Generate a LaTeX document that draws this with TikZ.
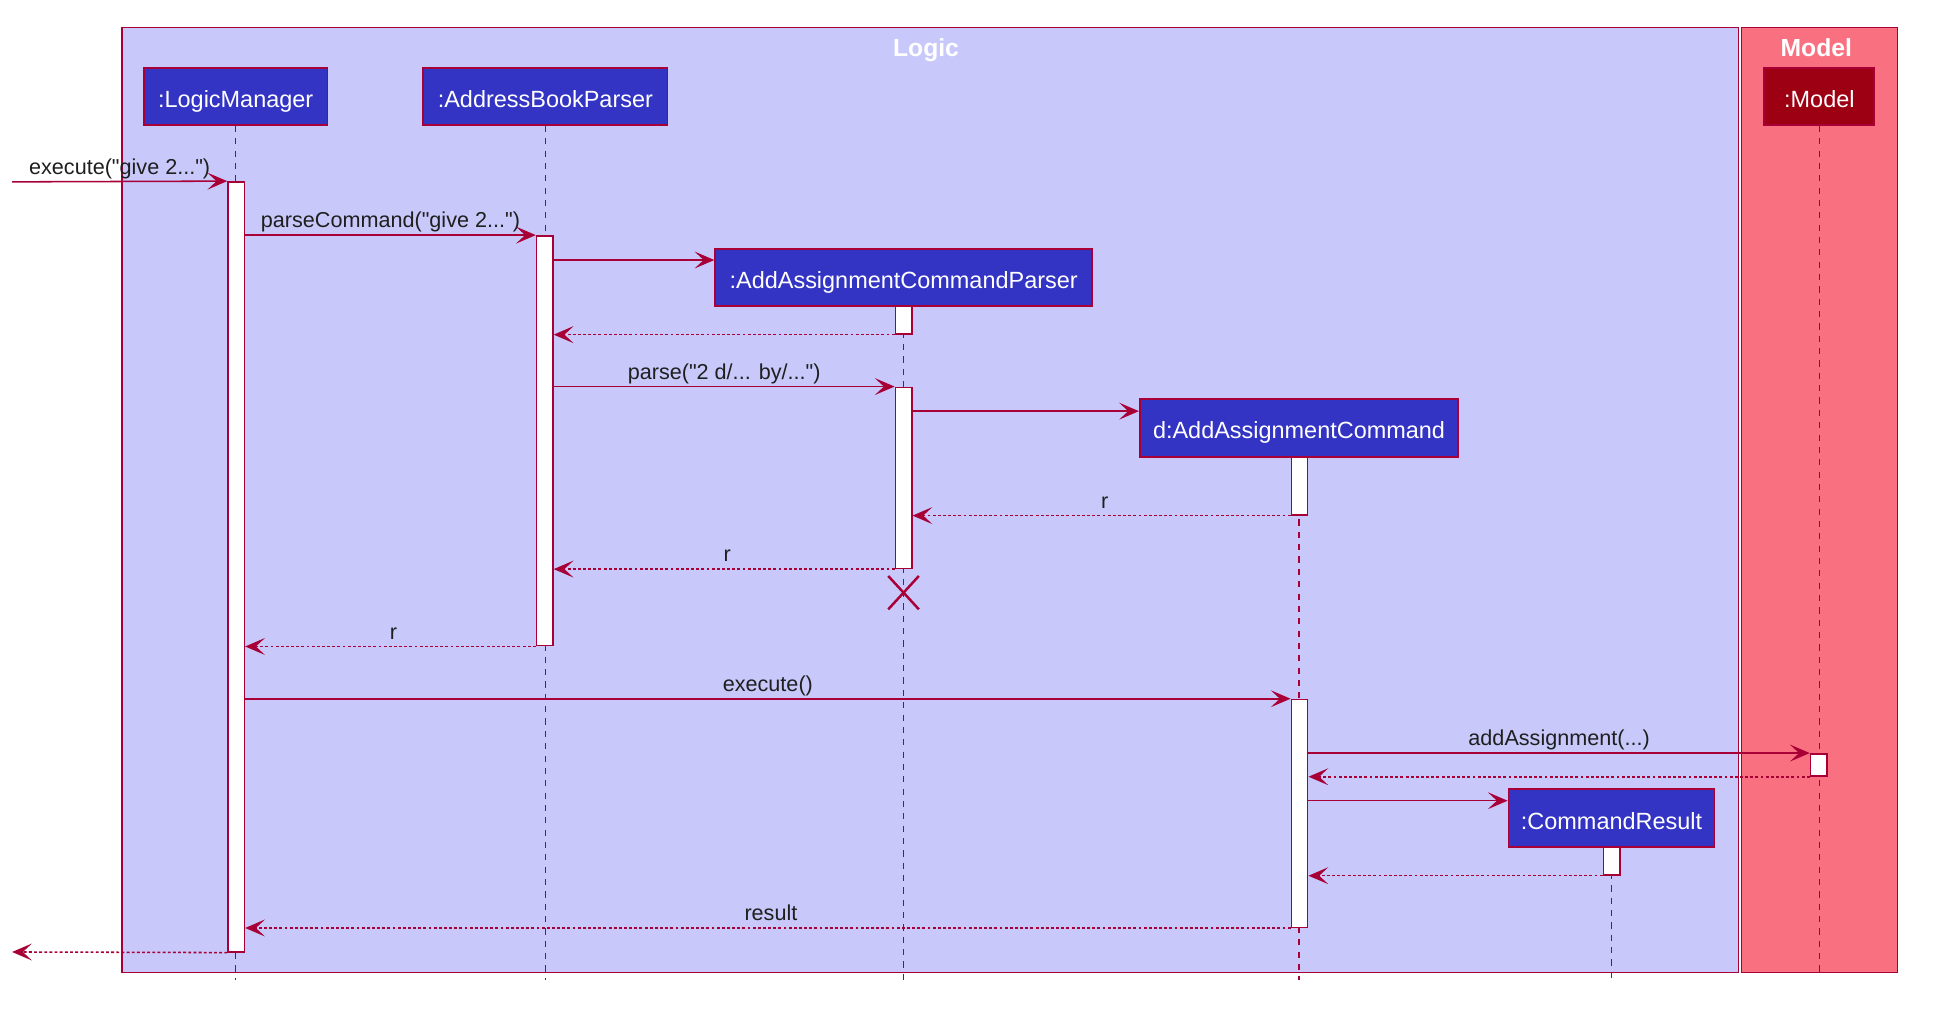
\documentclass[tikz,border=0pt]{standalone}
\usepackage{fontspec}
\setmainfont{Liberation Sans}[Ligatures=TeXOff]
\usetikzlibrary{arrows.meta}
\definecolor{arr}{HTML}{A80036}
\definecolor{logicT}{HTML}{C8C8FA}
\definecolor{modelT}{HTML}{F97181}
\definecolor{logicC}{HTML}{3333C4}
\definecolor{modelC}{HTML}{9D0012}
\tikzset{
  frame/.style={draw=arr, line width=0.7pt, inner sep=0pt, anchor=north west},
  part/.style={draw=arr, line width=0.9pt, fill=logicC, text=white, font=\fontsize{11.4}{13}\selectfont, inner sep=0pt, text height=10.5pt, text depth=0pt, minimum height=27.5pt},
  life/.style={draw=arr, line width=0.7pt, dash pattern=on 3pt off 3pt},
  act/.style={draw=arr, fill=white, line width=0.7pt, inner sep=0pt, minimum width=8pt},
  msg/.style={draw=arr, line width=0.75pt, -{Stealth[length=9.6pt,width=8.2pt,inset=4.4pt]}},
  ret/.style={msg, dash pattern=on 1.4pt off 1.1pt},
  lbl/.style={font=\fontsize{10.5}{12}\selectfont, text=black!88, anchor=base, inner sep=0pt, yshift=3.6pt},
  ttl/.style={font=\bfseries\fontsize{12}{14}\selectfont, text=white, anchor=base, inner sep=0pt},
  destroy/.style={draw=arr, line width=1.2pt}
}
\begin{document}
\begin{tikzpicture}[x=0.6pt, y=-0.6pt]
\useasboundingbox (0,0) rectangle (1568,826);
% frames
\node[frame, fill=logicT, minimum width=785.4pt, minimum height=459.2pt] (logicBox) at (98.4,21.6) {};
\node[frame, fill=modelT, minimum width=75.7pt, minimum height=459.2pt] (modelBox) at (1409.9,21.6) {};
\node[ttl] (logicTitle) at (750,45.5) {Logic};
\node[ttl] (modelTitle) at (1471,45.7) {Model};
% participants
\node[part, minimum width=89.2pt] (lm) at (190.9,78.25) {:LogicManager};
\node[part, minimum width=118.7pt] (abp) at (441.7,78.25) {:AddressBookParser};
\node[part, fill=modelC, minimum width=53.4pt] (mdl) at (1473.5,78.25) {:Model};
\node[part, minimum width=183.1pt, minimum height=27.9pt] (aacp) at (731.9,224.7) {:AddAssignmentCommandParser};
\node[part, minimum width=154.7pt, minimum height=27.9pt] (aac) at (1052.1,346.7) {d:AddAssignmentCommand};
\node[part, minimum width=100.1pt, minimum height=28.2pt] (cr) at (1305.2,662.8) {:CommandResult};
% lifelines
\coordinate (bot) at (0,794);
\coordinate (botM) at (0,790);
\draw[life] (lm.south) -- (lm.south |- bot);
\draw[life] (abp.south) -- (abp.south |- bot);
\draw[life] (aacp.south) -- (aacp.south |- bot);
\draw[life] (aac.south) -- (aac.south |- bot);
\draw[life] (cr.south) -- (cr.south |- bot);
\draw[life] (mdl.south) -- (mdl.south |- botM);
% activations
\node[act, minimum height=374.2pt] (lmA) at (191.3,459.1) {};
\node[act, minimum height=199.2pt] (abpA) at (441.2,357) {};
\node[act, minimum height=13.5pt] (aacpS) at (731.8,259.2) {};
\node[act, minimum height=88pt] (aacpA) at (731.8,387) {};
\node[act, minimum height=28.2pt] (aacS) at (1052.5,393.5) {};
\node[act, minimum height=110.7pt] (aacA) at (1052.5,658.75) {};
\node[act, minimum height=10.8pt] (modA) at (1473,619.5) {};
\node[act, minimum height=13.4pt] (crS) at (1305.2,697.5) {};
% free ends and message rows
\coordinate (inStart) at (9.8,147.3);
\coordinate (outEnd) at (9.8,771);
\coordinate (rowCreateP) at (0,210.6);
\coordinate (rowCreateC) at (0,333);
\coordinate (rowCreateR) at (0,648.5);
% messages
\draw[msg] (inStart) -- node[lbl, midway] {execute("give 2...")} (lmA.north west);
\draw[msg] (lmA.east |- abpA.north) -- node[lbl, midway] {parseCommand("give 2...")} (abpA.north west);
\draw[msg] (abpA.east |- rowCreateP) -- (aacp.west |- rowCreateP);
\draw[ret] (aacpS.south west) -- (abpA.east |- aacpS.south);
\draw[msg] (abpA.east |- aacpA.north) -- node[lbl, midway] {parse("2 d/... by/...")} (aacpA.north west);
\draw[msg] (aacpA.east |- rowCreateC) -- (aac.west |- rowCreateC);
\draw[ret] (aacS.south west) -- node[lbl, midway, xshift=1.5pt] {r} (aacpA.east |- aacS.south);
\draw[ret] (aacpA.south west) -- node[lbl, midway, xshift=1.5pt] {r} (abpA.east |- aacpA.south);
\coordinate (dx) at (731.8,480);
\draw[destroy] (dx) +(-12.4,-13.5) -- +(12.4,13.5);
\draw[destroy] (dx) +(12.4,-13.5) -- +(-12.4,13.5);
\draw[ret] (abpA.south west) -- node[lbl, midway, xshift=1.5pt] {r} (lmA.east |- abpA.south);
\draw[msg] (lmA.east |- aacA.north) -- node[lbl, midway] {execute()} (aacA.north west);
\draw[msg] (aacA.east |- modA.north) -- node[lbl, midway] {addAssignment(...)} (modA.north west);
\draw[ret] (modA.south west) -- (aacA.east |- modA.south);
\draw[msg] (aacA.east |- rowCreateR) -- (cr.west |- rowCreateR);
\draw[ret] (crS.south west) -- (aacA.east |- crS.south);
\draw[ret] (aacA.south west) -- node[lbl, midway, xshift=1.5pt] {result} (lmA.east |- aacA.south);
\draw[ret] (lmA.south west) -- (outEnd);
\end{tikzpicture}
\end{document}
